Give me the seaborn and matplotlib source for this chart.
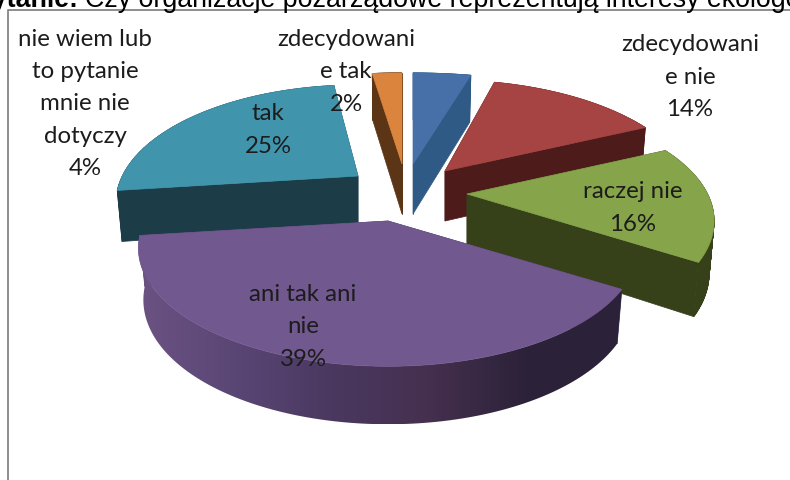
import numpy as np
import matplotlib.pyplot as plt
from matplotlib.collections import PolyCollection
from matplotlib.colors import LinearSegmentedColormap
from matplotlib.patches import Polygon
import seaborn as sns


# Chart data, clockwise from 12 o'clock
categories = [
    "nie wiem lub\nto pytanie\nmnie nie\ndotyczy",
    "zdecydowani\ne nie",
    "raczej nie",
    "ani tak ani\nnie",
    "tak",
    "zdecydowani\ne tak",
]
shares = [4, 14, 16, 39, 25, 2]

# Styling
top_colors = ["#4670a7", "#a54442", "#86a44a", "#71588f", "#4095ad", "#db843d"]
side_colors = ["#2f5a85", "#4e1b1b", "#374119", "#4a3860", "#1c3c47", "#5b3515"]
apex_px = [(413, 165), (445, 172), (467, 195), (388, 222), (358, 177), (402, 165)]
width_scale = [1.17, 1.0, 0.99, 1.0, 0.97, 1.2]
label_px = [(85, 104), (690, 77), (633, 208), (303, 327), (268, 130), (346, 72)]
draw_order = [5, 0, 1, 4, 2, 3]

# Perspective of the tilted pie, in pixels
RADIUS_X = 243
RADIUS_Y = 112
TILT = 0.229
DEPTH = 50

sns.set_theme(style="white")
plt.rcParams["font.family"] = ["Lato", "DejaVu Sans"]


def project(theta: np.ndarray, scale: float) -> tuple:
    """
    Offset from the slice apex of rim points at clockwise angle theta.
    """
    u = np.sin(theta)
    v = -np.cos(theta)
    f = 1 / (1 - TILT * v)
    return RADIUS_X * scale * u * f, RADIUS_Y * v * f, v


def lower(dx: np.ndarray, dy: np.ndarray, v: np.ndarray) -> tuple:
    """
    Same rim points on the bottom face of the pie.
    """
    drop = DEPTH + np.where(v > 0, 8 * v, 3 * v)
    return dx * 0.98, dy + drop


def draw_slice(ax, start, stop, apex, scale, top, side, z, wall_cmap=None) -> None:
    """
    Draw one exploded slice: cut faces, outer wall, then the top.
    """
    x0, y0 = apex
    theta = np.linspace(start, stop, 120)
    dx, dy, v = project(theta, scale)
    bx, by = lower(dx, dy, v)

    # cut faces
    for i in (0, -1):
        face = [
            (x0, y0),
            (x0 + dx[i], y0 + dy[i]),
            (x0 + bx[i], y0 + by[i]),
            (x0, y0 + DEPTH),
        ]
        ax.fill(*zip(*face), color=side, lw=0.5, zorder=z)

    # outer wall
    if wall_cmap is None:
        quads = [
            [
                (x0 + dx[i], y0 + dy[i]),
                (x0 + dx[i + 1], y0 + dy[i + 1]),
                (x0 + bx[i + 1], y0 + by[i + 1]),
                (x0 + bx[i], y0 + by[i]),
            ]
            for i in range(len(theta) - 1)
        ]
        wall = PolyCollection(quads, facecolors=side, edgecolors=side, lw=0.5, zorder=z)
        ax.add_collection(wall)
    else:
        outline = np.r_[
            np.c_[x0 + dx, y0 + dy],
            np.c_[x0 + bx, y0 + by][::-1],
        ]
        clip = Polygon(outline, transform=ax.transData, fc="none", ec="none")
        ax.add_patch(clip)
        image = ax.imshow(
            np.linspace(0, 1, 256)[None, :],
            extent=(outline[:, 0].min(), outline[:, 0].max(), outline[:, 1].max(), outline[:, 1].min()),
            aspect="auto",
            cmap=wall_cmap,
            zorder=z,
        )
        image.set_clip_path(clip)

    # top face
    ax.fill(np.r_[x0, x0 + dx], np.r_[y0, y0 + dy], color=top, lw=0.5, zorder=z + 1)


def plot_pie() -> None:
    """
    Plot the tilted exploded pie with its labels, frame and question.
    """
    fig = plt.figure(figsize=(7.9, 4.81), dpi=100)
    ax = fig.add_axes([0, 0, 1, 1])
    ax.axis("off")

    # frame around the chart
    ax.plot([8, 8, 790], [481, 11, 11], color="#868686", lw=1.3)

    # question above the chart, cut by the image edge
    ax.text(
        78, 7, "Pytanie:", family="Liberation Sans", weight="bold",
        fontsize=19.3, ha="right", va="baseline", color="black",
    )
    ax.text(
        85, 7, "Czy organizacje pozarządowe reprezentują interesy ekologów",
        family="Liberation Sans", fontsize=19.3, ha="left", va="baseline",
        color="black",
    )

    edges = np.deg2rad(np.cumsum([0] + shares) * 3.6)
    purple_wall = LinearSegmentedColormap.from_list(
        "purple_wall",
        ["#6b5382", "#5a4675", "#4a3860", "#45304f", "#2c2239", "#2b2138"],
    )

    for group, i in enumerate(draw_order):
        draw_slice(
            ax, edges[i], edges[i + 1], apex_px[i], width_scale[i],
            top_colors[i], side_colors[i], z=2 + group * 2,
            wall_cmap=purple_wall if i == 3 else None,
        )

    for i, (x, y) in enumerate(label_px):
        ax.text(
            x, y, f"{categories[i]}\n{shares[i]}%", fontsize=17.3, color="#1c1c1c",
            ha="center", va="center", linespacing=1.65, zorder=40,
        )

    ax.set_xlim(0, 790)
    ax.set_ylim(481, 0)
    fig.savefig("out.png", dpi=100)
    plt.close(fig)


def main() -> None:
    plot_pie()


if __name__ == "__main__":
    main()
